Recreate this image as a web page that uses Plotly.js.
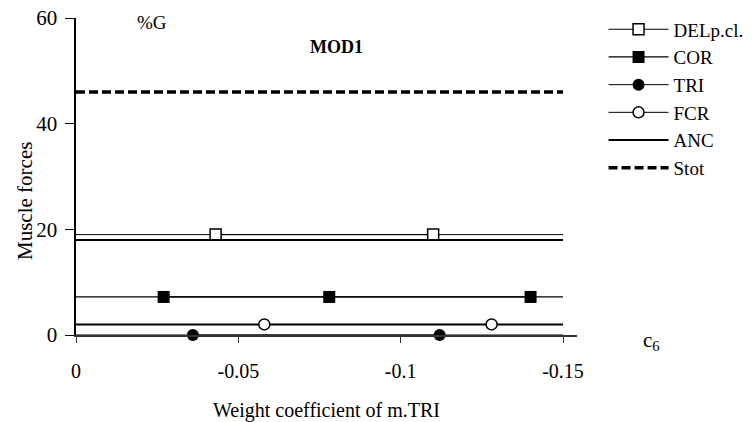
<!DOCTYPE html>
<html><head><meta charset="utf-8">
<script src="https://cdn.plot.ly/plotly-3.0.1.min.js"></script>
<style>html,body{margin:0;padding:0;background:#fff}</style>
</head><body><div id="chart" style="width:752px;height:422px"></div>
<script>
// ---- data ----
const xStart = 0, xEnd = -0.15;
const lineX = [xStart, xEnd];
const delY = [19.0, 19.0];
const ancY = [18.0, 18.0];
const corLineY = [7.2, 7.2];
const fcrLineY = [2.0, 2.0];
const triLineY = [0, 0];
const stotY = [46.0, 46.0];
const delMarkX = [-0.043, -0.110];
const delMarkY = [19.0, 19.0];
const corMarkX = [-0.027, -0.078, -0.140];
const corMarkY = [7.2, 7.2, 7.2];
const triMarkX = [-0.036, -0.112];
const triMarkY = [0, 0];
const fcrMarkX = [-0.058, -0.128];
const fcrMarkY = [2.0, 2.0];
const xTickVals = [0, -0.05, -0.1, -0.15];
const xTickText = ['0', '-0.05', '-0.1', '-0.15'];
const yTickVals = [0, 20, 40, 60];
const yTickText = ['0', '20', '40', '60'];

const F = '"Liberation Serif", "Times New Roman", Times, "DejaVu Serif", serif';
const traces = [
  {x: lineX, y: delY, mode: 'lines', line: {color: '#000', width: 1}, showlegend: false, hoverinfo: 'skip'},
  {x: lineX, y: corLineY, mode: 'lines', line: {color: '#000', width: 1.3}, showlegend: false, hoverinfo: 'skip'},
  {x: lineX, y: triLineY, mode: 'lines', line: {color: '#000', width: 1}, showlegend: false, hoverinfo: 'skip'},
  {x: lineX, y: fcrLineY, mode: 'lines', line: {color: '#000', width: 2}, showlegend: false, hoverinfo: 'skip'},
  {x: delMarkX, y: delMarkY, name: 'DELp.cl.', mode: 'lines+markers', cliponaxis: false,
   line: {color: '#000', width: 1}, marker: {symbol: 'square', size: 11, color: '#fff', line: {color: '#000', width: 1.5}}},
  {x: corMarkX, y: corMarkY, name: 'COR', mode: 'lines+markers', cliponaxis: false,
   line: {color: '#000', width: 1.3}, marker: {symbol: 'square', size: 12, color: '#000'}},
  {x: triMarkX, y: triMarkY, name: 'TRI', mode: 'lines+markers', cliponaxis: false,
   line: {color: '#000', width: 1}, marker: {symbol: 'circle', size: 12, color: '#000'}},
  {x: fcrMarkX, y: fcrMarkY, name: 'FCR', mode: 'lines+markers', cliponaxis: false,
   line: {color: '#000', width: 1}, marker: {symbol: 'circle', size: 11, color: '#fff', line: {color: '#000', width: 1.5}}},
  {x: lineX, y: ancY, name: 'ANC', mode: 'lines', line: {color: '#000', width: 2}},
  {x: lineX, y: stotY, name: 'Stot', mode: 'lines', line: {color: '#000', width: 3.5, dash: '9px,4px'}}
];

const layout = {
  width: 752, height: 422,
  margin: {l: 76, r: 175, t: 18, b: 87, autoexpand: false},
  paper_bgcolor: '#fff', plot_bgcolor: '#fff',
  font: {family: F, color: '#000', size: 20},
  showlegend: true,
  legend: {x: 1.053, y: 1.024, xanchor: 'left', yanchor: 'top', font: {family: F, size: 19, color: '#000'},
           bgcolor: 'rgba(0,0,0,0)', itemwidth: 60, tracegroupgap: 0},
  xaxis: {range: [0, -0.1543], tickvals: xTickVals, ticktext: xTickText, showgrid: false, zeroline: false,
          showline: true, linecolor: '#333', linewidth: 2, ticks: 'outside', ticklen: 6, tickcolor: '#333',
          ticklabelstandoff: 11, tickfont: {family: F, size: 20},
          title: {text: 'Weight coefficient of m.TRI', font: {family: F, size: 20}, standoff: 23}},
  yaxis: {range: [0, 60], tickvals: yTickVals, ticktext: yTickText, showgrid: false, zeroline: false,
          showline: true, linecolor: '#000', linewidth: 2.5, ticks: 'outside', ticklen: 9, tickcolor: '#000',
          ticklabelstandoff: 3, tickfont: {family: F, size: 21}},
  annotations: [
    {text: 'Muscle forces', xref: 'paper', yref: 'paper', x: (25 - 76) / 501, y: (335 - 201) / 317, textangle: -90,
     xanchor: 'center', yanchor: 'middle', showarrow: false, font: {family: F, size: 21}},
    {text: '%G', xref: 'paper', yref: 'paper', x: (152 - 76) / 501, y: (335 - 22) / 317,
     xanchor: 'center', yanchor: 'middle', showarrow: false, font: {family: F, size: 19}},
    {text: '<b>MOD1</b>', xref: 'paper', yref: 'paper', x: (336 - 76) / 501, y: (335 - 47) / 317,
     xanchor: 'center', yanchor: 'middle', showarrow: false, font: {family: F, size: 18}},
    {text: 'c<sub>6</sub>', xref: 'paper', yref: 'paper', x: (651 - 76) / 501, y: (335 - 341) / 317,
     xanchor: 'center', yanchor: 'middle', showarrow: false, font: {family: F, size: 21}}
  ]
};
Plotly.newPlot('chart', traces, layout, {displayModeBar: false, staticPlot: true});
</script></body></html>
